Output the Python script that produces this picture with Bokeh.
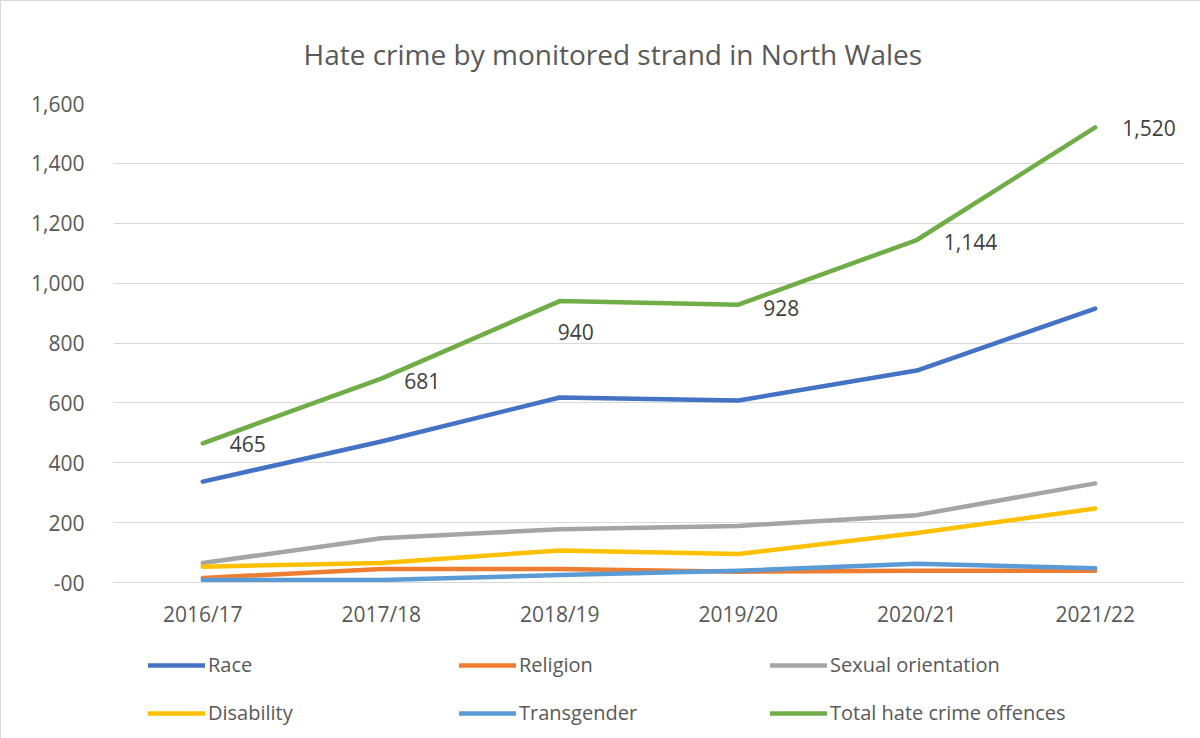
from bokeh.plotting import figure
from bokeh.layouts import column
from bokeh.models import (Range1d, FactorRange, Legend, LegendItem,
                          NumeralTickFormatter, ColumnDataSource, Title)
from bokeh.embed import file_html
from bokeh.resources import INLINE
from bokeh.core.properties import value

years = ["2016/17", "2017/18", "2018/19", "2019/20", "2020/21", "2021/22"]
race = [337, 471, 618, 608, 708, 915]
religion = [15, 45, 45, 36, 39, 39]
sexual_orientation = [65, 148, 178, 189, 225, 331]
disability = [53, 65, 107, 95, 165, 247]
transgender = [8, 8, 25, 39, 63, 48]
total = [465, 681, 940, 928, 1144, 1520]

series_names = ["Race", "Religion", "Sexual orientation", "Disability",
                "Transgender", "Total hate crime offences"]
series_values = [race, religion, sexual_orientation, disability, transgender, total]
colors = ["#4472C4", "#ED7D31", "#A5A5A5", "#FFC000", "#5B9BD5", "#70AD47"]

FONT = "Open Sans"
GREY = "#595959"

p = figure(width=1199, height=640, x_range=FactorRange(*years),
           y_range=Range1d(0, 1600), output_backend="svg",
           toolbar_location=None, min_border_left=112, min_border_right=16,
           min_border_top=102, min_border_bottom=59)
p.outline_line_color = None
p.background_fill_color = "white"
p.border_fill_color = "white"

t = Title(text="Hate crime by monitored strand in North Wales", align="left",
          text_font=FONT, text_font_size="28px", text_font_style="normal",
          text_color=GREY, standoff=62, offset=190)
p.add_layout(t, "above")

p.xgrid.grid_line_color = None
p.ygrid.grid_line_color = "#d9d9d9"
p.ygrid.grid_line_width = 1

p.yaxis.axis_line_color = None
p.yaxis.major_tick_line_color = None
p.yaxis.minor_tick_line_color = None
p.yaxis.major_label_standoff = 23
p.yaxis.formatter = NumeralTickFormatter(format="0,0")
p.yaxis.ticker = [0, 200, 400, 600, 800, 1000, 1200, 1400, 1600]
p.yaxis.major_label_overrides = {0: "-00"}

p.xaxis.axis_line_color = "#d9d9d9"
p.xaxis.major_tick_line_color = None
p.xaxis.minor_tick_line_color = None
p.xaxis.major_label_standoff = 11

for ax in (p.xaxis[0], p.yaxis[0]):
    ax.major_label_text_font = FONT
    ax.major_label_text_font_size = "21px"
    ax.major_label_text_color = GREY

for name, vals, col in zip(series_names, series_values, colors):
    src = ColumnDataSource(dict(x=years, y=vals))
    p.line("x", "y", source=src, line_color=col, line_width=4.5,
           line_cap="round", line_join="round")

# data labels for the total series
label_dx = [27, 23, -2, 25, 27, 27]
label_dy = [1, 2, 31, 3, 2, 1]
lab_src = ColumnDataSource(dict(x=years, y=total,
                                t=[f"{v:,}" for v in total],
                                dx=label_dx, dy=label_dy))
p.text("x", "y", text="t", source=lab_src, x_offset="dx", y_offset="dy",
       text_align="left", text_baseline="middle", text_font=value(FONT),
       text_font_size="21px", text_color="#404040")

# legend strip below the chart (its frame is aligned with the chart's frame)
lg = figure(width=1199, height=97, x_range=Range1d(0, 1), y_range=Range1d(0, 1),
            x_axis_type=None, y_axis_type=None,
            output_backend="svg", toolbar_location=None, min_border=0,
            min_border_left=0, min_border_right=0, min_border_top=0,
            min_border_bottom=0)
lg.grid.grid_line_color = None
lg.outline_line_color = None
items = []
for name, col in zip(series_names, colors):
    r = lg.line(x=[5, 6], y=[5, 6], line_color=col, line_width=4.5, line_cap="round")
    items.append(LegendItem(label=name, renderers=[r]))

legend = Legend(items=items, location=(35, 12), orientation="horizontal",
                ncols=3, glyph_width=57, glyph_height=20, label_height=20,
                label_width=230, label_standoff=3, spacing=21, padding=0,
                margin=0, border_line_color=None, background_fill_alpha=0,
                label_text_font=FONT, label_text_font_size="20px",
                label_text_color=GREY)
lg.add_layout(legend, "center")

layout = column(p, lg, spacing=0)
layout.styles = {"border-left": "1px solid #d9d9d9", "border-top": "1px solid #d9d9d9"}

open("out.html", "w").write(file_html(layout, INLINE))
